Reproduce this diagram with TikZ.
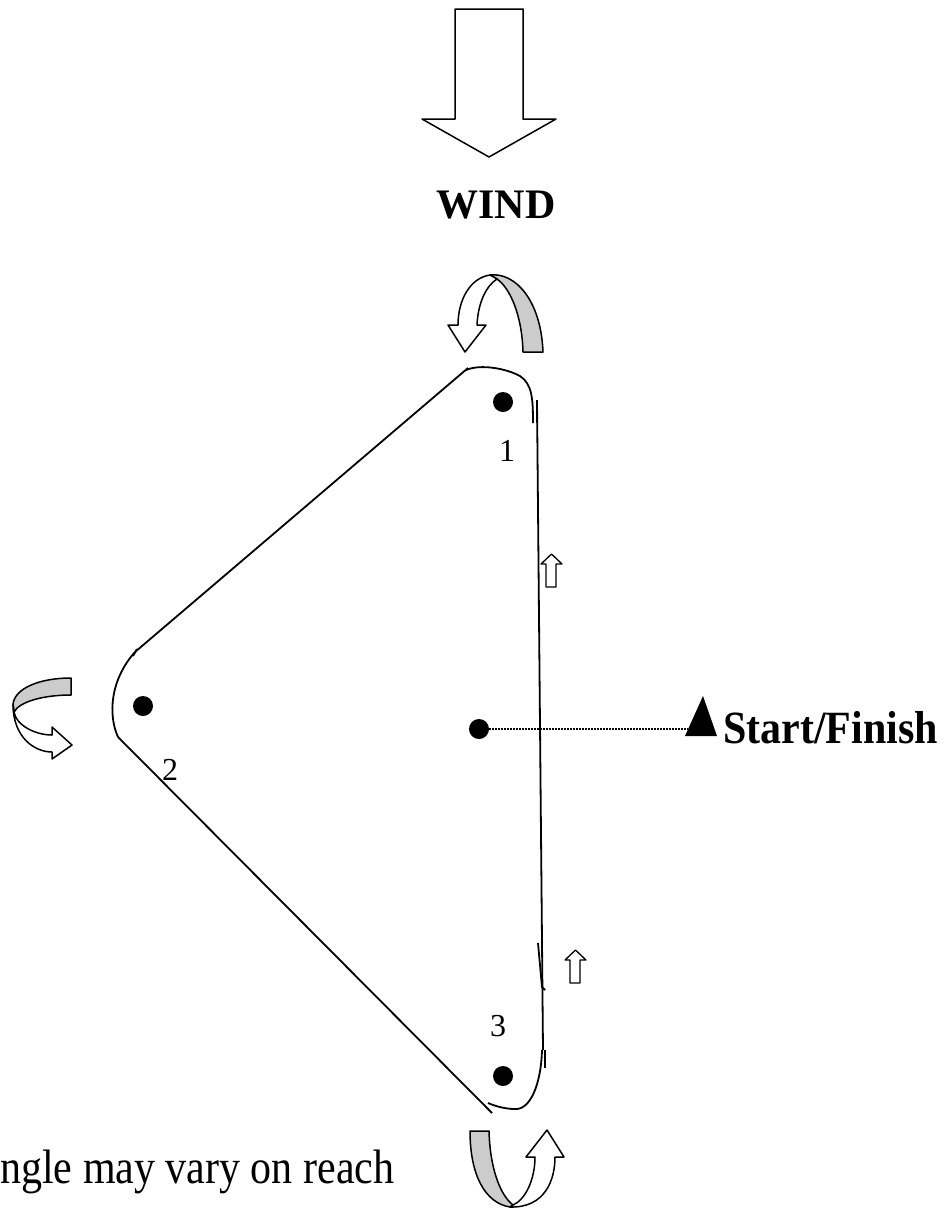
\documentclass[tikz,border=0pt]{standalone}
\usepackage{fontspec}
\setmainfont{Liberation Serif}
\begin{document}
\begin{tikzpicture}[x=1pt,y=-1pt,line join=round]
\tikzset{
 outl/.style={draw=black,line width=1.5pt,fill=white},
 smallarrow/.style={draw=black,line width=1.3pt,fill=white},
 band/.style={draw=black,line width=1.5pt,fill=black!20},
 buoy/.style={circle,fill=black,inner sep=0pt,minimum size=20pt},
 course/.style={draw=black,line width=1.8pt},
 num/.style={font=\fontsize{32}{32}\selectfont,inner sep=0pt},
 big/.style={font=\fontsize{42}{42}\selectfont\bfseries,inner sep=0pt},
 note/.style={font=\fontsize{42}{42}\selectfont,inner sep=0pt},
 dots/.style={line width=1.6pt,dash pattern=on 1.5pt off 1.5pt},
}
\useasboundingbox (0,0) rectangle (946,1211);
% wind arrow
\draw[outl] (455,9) -- (523,9) -- (523,119) -- (556,119) -- (489,157) -- (422,119) -- (455,119) -- cycle;
\node[big,anchor=base] (wind) at (496,218) {WIND};
% course
\draw[course] (135,652) -- (468,368);
\draw[course] (137,649) -- (133,656);
\draw[course] (466,370) .. controls (480,364) and (505,368) .. (520,376) .. controls (532,384) and (533,398) .. (533,423);
\draw[course] (536.5,400) -- (536.5,423);
\draw[course] (537,400) -- (543,1050);
\draw[course] (538,943) -- (542,987) -- (545,990);
\draw[course] (545,1050) -- (545,1068);
\draw[course] (542,1050) .. controls (541,1085) and (530,1110) .. (515,1109) .. controls (505,1109) and (495,1106) .. (488,1103);
\draw[course] (118,737) -- (492,1113);
\draw[course] (118,737) .. controls (108,715) and (110,680) .. (135,652);
% buoys
\node[buoy] (b1) at (503,402) {};
\node[buoy] (b2) at (143,706) {};
\node[buoy] (b3) at (503,1076) {};
\node[buoy] (sc) at (479,729) {};
\node[num] (n1) at (507,451) {1};
\node[num] (n2) at (170,770) {2};
\node[num] (n3) at (498,1026) {3};
% start/finish
\fill (685,736) -- (703,696) -- (717,736) -- cycle;
\coordinate (flag) at (688,729);
\draw[dots] (sc) -- (flag);
\node[big,anchor=base west,yscale=1.1] (sf) at (723,743) {Start/Finish};
% small up arrows
\draw[smallarrow] (546,587) -- (546,564) -- (541,564) -- (551.5,554) -- (562,564) -- (556,564) -- (556,587) -- cycle;
\draw[smallarrow] (570,983) -- (570,960) -- (565,960) -- (575.5,950) -- (586,960) -- (580,960) -- (580,983) -- cycle;
% rounding arrow at mark 1
\draw[band] (543,352) -- (523,352) .. controls (522,315) and (510,288) .. (497,279) -- (490,275) .. controls (515,272) and (541,300) .. (543,352) -- cycle;
\draw[outl] (490,275) .. controls (470,278) and (458,300) .. (458,325) -- (448,325) -- (465,352) -- (486,325) -- (477,325) .. controls (478,303) and (486,286) .. (497,279) -- cycle;
% rounding arrow at mark 2
\draw[band] (71,678) -- (71,695) .. controls (45,695) and (20,701) .. (14,712) -- (13,704) .. controls (15,688) and (40,678) .. (71,678) -- cycle;
\draw[outl] (13,704) .. controls (13,738) and (35,752) .. (52,752) -- (52,759) -- (72,745) -- (52,727) -- (52,735) .. controls (35,735) and (16,725) .. (14,712) -- cycle;
% rounding arrow at mark 3
\draw[band] (470,1131) -- (489,1131) .. controls (490,1168) and (500,1195) .. (513,1205) -- (510,1207) .. controls (485,1203) and (470,1175) .. (470,1131) -- cycle;
\draw[outl] (510,1207) .. controls (545,1208) and (555,1180) .. (555,1157) -- (564,1157) -- (547,1130) -- (526,1157) -- (535,1157) .. controls (535,1180) and (525,1200) .. (513,1205) -- cycle;
% note
\node[note,anchor=base west,yscale=1.15] (nt) at (0,1183) {ngle may vary on reach};
\end{tikzpicture}
\end{document}
